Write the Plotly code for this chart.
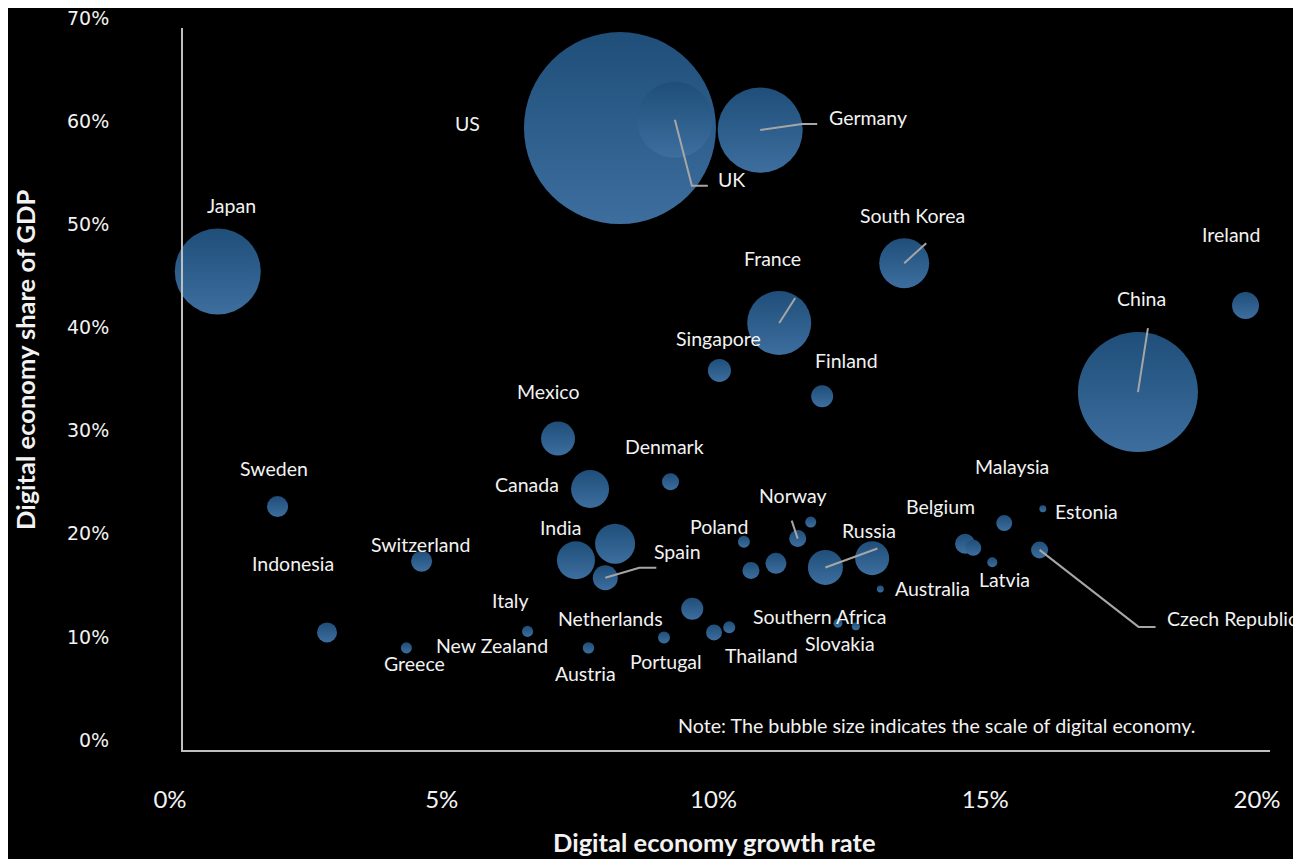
import plotly.graph_objects as go

# ---------------- data ----------------
countries = [
    "US", "UK", "Germany", "China", "Japan", "France", "South Korea",
    "Singapore", "Finland", "Ireland", "Mexico", "Canada", "Denmark",
    "India", "", "Spain", "Poland", "", "", "Norway", "", "Russia", "",
    "Australia", "Southern Africa", "Slovakia", "Belgium", "", "Malaysia",
    "Latvia", "Estonia", "Czech Republic", "Sweden", "Switzerland",
    "Indonesia", "Greece", "Italy", "Austria", "Portugal", "Netherlands",
    "New Zealand", "Thailand",
]
growth_rate = [  # digital economy growth rate, %
    8.04, 9.05, 10.62, 17.57, 0.64, 10.97, 13.27,
    9.87, 11.76, 19.55, 6.90, 7.49, 8.97,
    7.23, 7.95, 7.77, 10.32, 10.45, 10.91, 11.31, 11.55, 11.82, 12.68,
    12.83, 12.05, 12.38, 14.39, 14.54, 15.11,
    14.89, 15.82, 15.76, 1.74, 4.39,
    2.65, 4.11, 6.34, 7.46, 8.85, 9.37,
    9.77, 10.05,
]
gdp_share = [  # digital economy share of GDP, %
    60.3, 61.1, 60.1, 34.7, 46.4, 41.4, 47.2,
    36.8, 34.3, 43.1, 30.2, 25.3, 26.0,
    18.4, 20.0, 16.7, 20.2, 17.4, 18.1, 20.5, 22.1, 17.7, 18.6,
    15.6, 12.3, 12.0, 20.0, 19.6, 22.0,
    18.2, 23.4, 19.4, 23.6, 18.3,
    11.4, 9.9, 11.5, 9.9, 10.9, 13.7,
    11.4, 11.9,
]
scale = [  # scale of digital economy (bubble size), USD bn
    13600, 2130, 2670, 5310, 2730, 1510, 920,
    195, 179, 269, 426, 533, 107,
    533, 590, 231, 53, 107, 163, 107, 45, 452, 426,
    18, 30, 24, 148, 94, 94,
    37, 18, 107, 163, 163,
    148, 45, 45, 48, 53, 179,
    94, 53,
]
x_tick_vals = [0, 5, 10, 15, 20]
x_tick_text = ["0%", "5%", "10%", "15%", "20%"]
y_tick_vals = [0, 10, 20, 30, 40, 50, 60, 70]
y_tick_text = ["0%", "10%", "20%", "30%", "40%", "50%", "60%", "70%"]

# ---------------- layout constants ----------------
OFF = 8                       # page body margin of the html page
W, H = 1301 - OFF, 859 - OFF
ML, MR, MT, MB = 183 - OFF, 31, 28 - OFF, 109
X_RANGE = [0, 20]
Y_RANGE = [0, 70]
PW, PH = W - ML - MR, H - MT - MB
PX_X = PW / (X_RANGE[1] - X_RANGE[0])
PX_Y = PH / (Y_RANGE[1] - Y_RANGE[0])
MAX_DIAM = 192

BUBBLE = "#1f4e79"
BUBBLE_LIGHT = "#3d6e9e"
LEADER = "#a6a6a6"
TEXT = "#f2f2f2"

# label offsets from bubble centre (pixels, +dy = down)
label_offsets = {
    "Japan": (14, -66), "US": (-152, -5), "UK": (57, 60), "Germany": (108, -13),
    "South Korea": (8, -48), "France": (-7, -64), "Singapore": (-1, -32),
    "Finland": (24, -36), "China": (4, -94), "Ireland": (-15, -71),
    "Mexico": (-10, -47), "Canada": (-63, -5), "Denmark": (-6, -35),
    "India": (-15, -33), "Spain": (72, -26), "Poland": (-25, -15),
    "Norway": (-5, -43), "Russia": (44, -37), "Australia": (52, -1),
    "Southern Africa": (-18, -7), "Slovakia": (-16, 17), "Belgium": (-25, -37),
    "Malaysia": (8, -57), "Latvia": (12, 17), "Estonia": (44, 3),
    "Czech Republic": (192, 69), "Sweden": (-4, -38), "Switzerland": (-1, -17),
    "Indonesia": (-34, -69), "Greece": (8, 16), "Italy": (-17, -31),
    "New Zealand": (-222, 13), "Austria": (-3, 26), "Portugal": (2, 24),
    "Netherlands": (-82, 10), "Thailand": (32, 28),
}
# leader line paths from bubble centre (pixels, +dy = down)
leader_paths = {
    "UK": [(17, 66), (33, 66)],
    "Germany": [(42, -6), (57, -6)],
    "South Korea": [(22, -20)],
    "France": [(16, -25)],
    "China": [(10, -64)],
    "Spain": [(34, -10), (51, -10)],
    "Norway": [(-6, -18)],
    "Russia": [(52, -19)],
    "Czech Republic": [(99, 77), (116, 77)],
}

fig = go.Figure()

fig.add_trace(go.Scatter(
    x=growth_rate, y=gdp_share, mode="markers", text=countries,
    cliponaxis=False, hoverinfo="text",
    marker=dict(
        size=scale, sizemode="area", sizeref=2.0 * max(scale) / MAX_DIAM ** 2,
        color=BUBBLE, opacity=1, line=dict(width=0),
        gradient=dict(type="vertical", color=BUBBLE_LIGHT),
    ),
    showlegend=False,
))

lx, ly = [], []
for name, path in leader_paths.items():
    i = countries.index(name)
    gx, gy = growth_rate[i], gdp_share[i]
    lx.append(gx)
    ly.append(gy)
    for dx, dy in path:
        lx.append(gx + dx / PX_X)
        ly.append(gy - dy / PX_Y)
    lx.append(None)
    ly.append(None)
fig.add_trace(go.Scatter(
    x=lx, y=ly, mode="lines", cliponaxis=False, hoverinfo="skip",
    line=dict(color=LEADER, width=2), showlegend=False,
))

annotations = []
for name, gx, gy in zip(countries, growth_rate, gdp_share):
    if not name:
        continue
    dx, dy = label_offsets[name]
    annotations.append(dict(
        x=gx, y=gy, xref="x", yref="y", text=name, showarrow=False,
        xanchor="center", yanchor="middle",
        xshift=dx, yshift=-dy, font=dict(family="Lato", size=19.5, color=TEXT),
    ))


def px_to_paper(px, py):
    """reference-page pixel -> paper coordinates"""
    return (px - OFF - ML) / PW, (H - MB - (py - OFF)) / PH


tx, ty = px_to_paper(714, 842)
annotations.append(dict(
    x=tx, y=ty, xref="paper", yref="paper", showarrow=False,
    xanchor="center", yanchor="middle",
    text="<b>Digital economy growth rate</b>",
    font=dict(family="Lato", size=25.5, color=TEXT),
))
tx, ty = px_to_paper(25, 360)
annotations.append(dict(
    x=tx, y=ty, xref="paper", yref="paper", showarrow=False, textangle=-90,
    xanchor="center", yanchor="middle",
    text="<b>Digital economy share of GDP</b>",
    font=dict(family="Lato", size=25.5, color=TEXT),
))
tx, ty = px_to_paper(676, 725)
annotations.append(dict(
    x=tx, y=ty, xref="paper", yref="paper", showarrow=False,
    xanchor="left", yanchor="middle",
    text="Note: The bubble size indicates the scale of digital economy.",
    font=dict(family="Lato", size=19.7, color=TEXT),
))

fig.update_layout(
    width=W, height=H,
    margin=dict(l=ML, r=MR, t=MT, b=MB),
    paper_bgcolor="black", plot_bgcolor="black",
    annotations=annotations,
    xaxis=dict(
        range=X_RANGE, showgrid=False, zeroline=False, automargin=False,
        showline=True, linecolor="#bfbfbf", linewidth=2,
        tickvals=x_tick_vals, ticktext=x_tick_text, ticks="",
        tickfont=dict(family="Lato", size=24, color=TEXT),
        ticklabelstandoff=27, ticklabelshift=-13, ticklabeloverflow="allow",
    ),
    yaxis=dict(
        range=Y_RANGE, showgrid=False, zeroline=False, automargin=False,
        showline=True, linecolor="#bfbfbf", linewidth=2,
        tickvals=y_tick_vals, ticktext=y_tick_text, ticks="",
        tickfont=dict(family="DejaVu Sans", size=19, color=TEXT),
        ticklabelstandoff=68, ticklabelshift=-10, ticklabeloverflow="allow",
    ),
)

fig.write_html("out.html")
